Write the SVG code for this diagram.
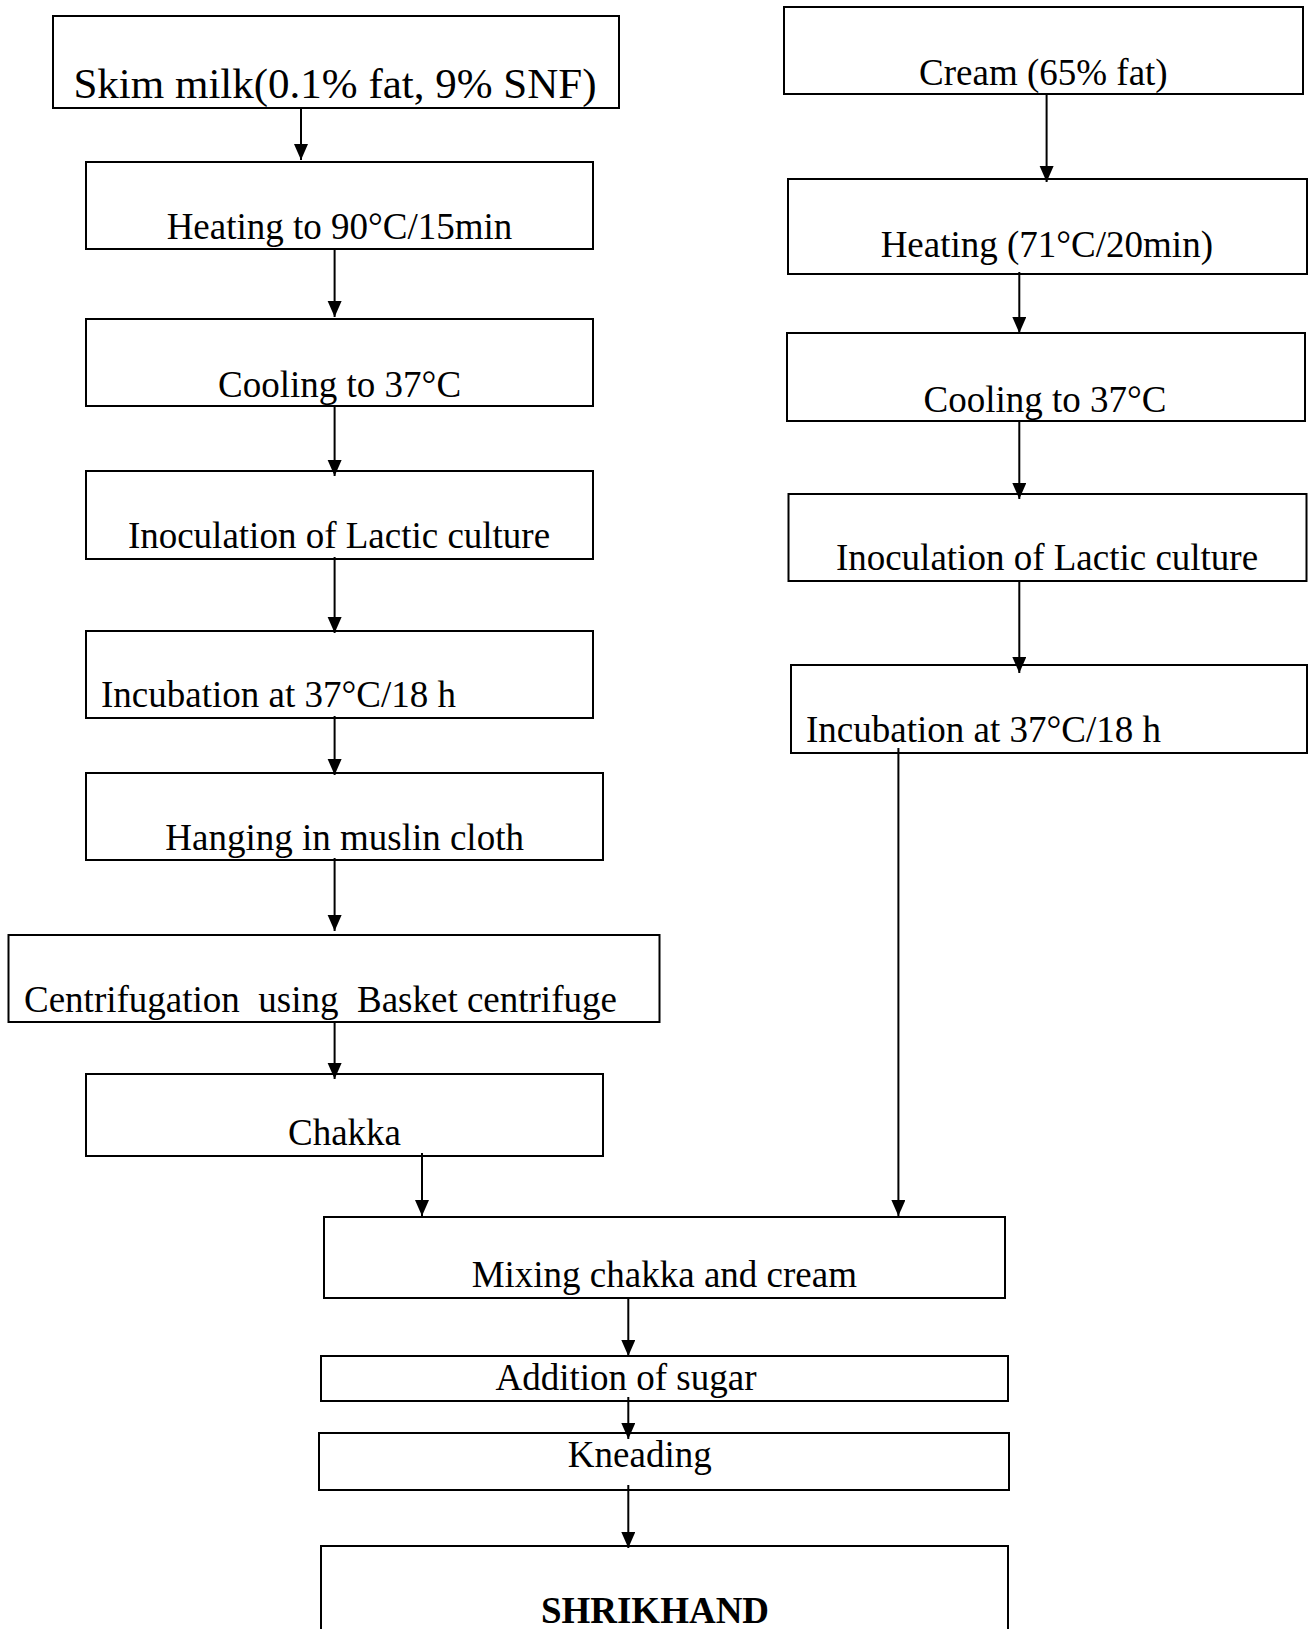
<svg xmlns="http://www.w3.org/2000/svg" width="1308" height="1629" viewBox="0 0 1308 1629">
<style>
.box{fill:#fff;stroke:#000;stroke-width:2}
.t{font-family:"Liberation Serif","Times New Roman",serif;font-size:37px;fill:#000}
.c{text-anchor:middle}
.b{font-weight:bold}
.con line{stroke:#000;stroke-width:2;marker-end:url(#ah)}
</style>
<defs>
<marker id="ah" markerUnits="userSpaceOnUse" markerWidth="16" markerHeight="16" refX="16" refY="7" orient="auto">
<path d="M0,0 L16,7 L0,14 z" fill="#000"/>
</marker>
</defs>
<rect width="1308" height="1629" fill="#fff"/>
<g id="n-skim"><rect class="box" x="53" y="16" width="566" height="92"/><text class="t c" x="335" y="98" style="font-size:43px">Skim milk(0.1% fat, 9% SNF)</text></g>
<g id="n-heat-l"><rect class="box" x="86" y="162" width="507" height="87"/><text class="t c" x="339.5" y="239">Heating to 90°C/15min</text></g>
<g id="n-cool-l"><rect class="box" x="86" y="319" width="507" height="87"/><text class="t c" x="339.6" y="397">Cooling to 37°C</text></g>
<g id="n-inoc-l"><rect class="box" x="86" y="471" width="507" height="88"/><text class="t c" x="339" y="548">Inoculation of Lactic culture</text></g>
<g id="n-incub-l"><rect class="box" x="86" y="631" width="507" height="87"/><text class="t" x="101" y="707">Incubation at 37°C/18 h</text></g>
<g id="n-hang"><rect class="box" x="86" y="773" width="517" height="87"/><text class="t c" x="344.6" y="850">Hanging in muslin cloth</text></g>
<g id="n-centrif"><rect class="box" x="8.5" y="935" width="651" height="87"/><text class="t" x="24" y="1012" xml:space="preserve">Centrifugation  using  Basket centrifuge</text></g>
<g id="n-chakka"><rect class="box" x="86" y="1074" width="517" height="82"/><text class="t c" x="344.5" y="1145">Chakka</text></g>
<g id="n-mix"><rect class="box" x="324" y="1217" width="681" height="81"/><text class="t c" x="664.3" y="1287">Mixing chakka and cream</text></g>
<g id="n-sugar"><rect class="box" x="321" y="1356" width="687" height="45"/><text class="t c" x="626" y="1390">Addition of sugar</text></g>
<g id="n-knead"><rect class="box" x="319" y="1433" width="690" height="57"/><text class="t c" x="639.8" y="1467">Kneading</text></g>
<g id="n-shrikhand"><rect class="box" x="321" y="1546" width="687" height="100"/><text class="t c b" x="655" y="1623">SHRIKHAND</text></g>
<g id="n-cream"><rect class="box" x="784" y="7" width="519" height="87"/><text class="t c" x="1043.4" y="85">Cream (65% fat)</text></g>
<g id="n-heat-r"><rect class="box" x="788" y="179" width="519" height="95"/><text class="t c" x="1046.8" y="257">Heating (71°C/20min)</text></g>
<g id="n-cool-r"><rect class="box" x="787" y="333" width="518" height="88"/><text class="t c" x="1045" y="412">Cooling to 37°C</text></g>
<g id="n-inoc-r"><rect class="box" x="788.5" y="494" width="518" height="87"/><text class="t c" x="1047" y="570">Inoculation of Lactic culture</text></g>
<g id="n-incub-r"><rect class="box" x="791" y="665" width="516" height="88"/><text class="t" x="806" y="742">Incubation at 37°C/18 h</text></g>
<g id="connectors" class="con">
<line x1="301" y1="108" x2="301" y2="160"/>
<line x1="334.6" y1="249" x2="334.6" y2="317"/>
<line x1="334.6" y1="406" x2="334.6" y2="476"/>
<line x1="334.6" y1="557" x2="334.6" y2="633"/>
<line x1="334.6" y1="716" x2="334.6" y2="775"/>
<line x1="334.6" y1="858" x2="334.6" y2="931"/>
<line x1="334.6" y1="1023" x2="334.6" y2="1079"/>
<line x1="422" y1="1153" x2="422" y2="1216"/>
<line x1="628.3" y1="1298" x2="628.3" y2="1356"/>
<line x1="628.3" y1="1397" x2="628.3" y2="1439"/>
<line x1="628.3" y1="1485" x2="628.3" y2="1548"/>
<line x1="1046.6" y1="94" x2="1046.6" y2="182"/>
<line x1="1019.3" y1="272" x2="1019.3" y2="333"/>
<line x1="1019.3" y1="421" x2="1019.3" y2="499"/>
<line x1="1019.3" y1="581" x2="1019.3" y2="673"/>
<line x1="898.4" y1="748" x2="898.4" y2="1216"/>
</g>
</svg>
